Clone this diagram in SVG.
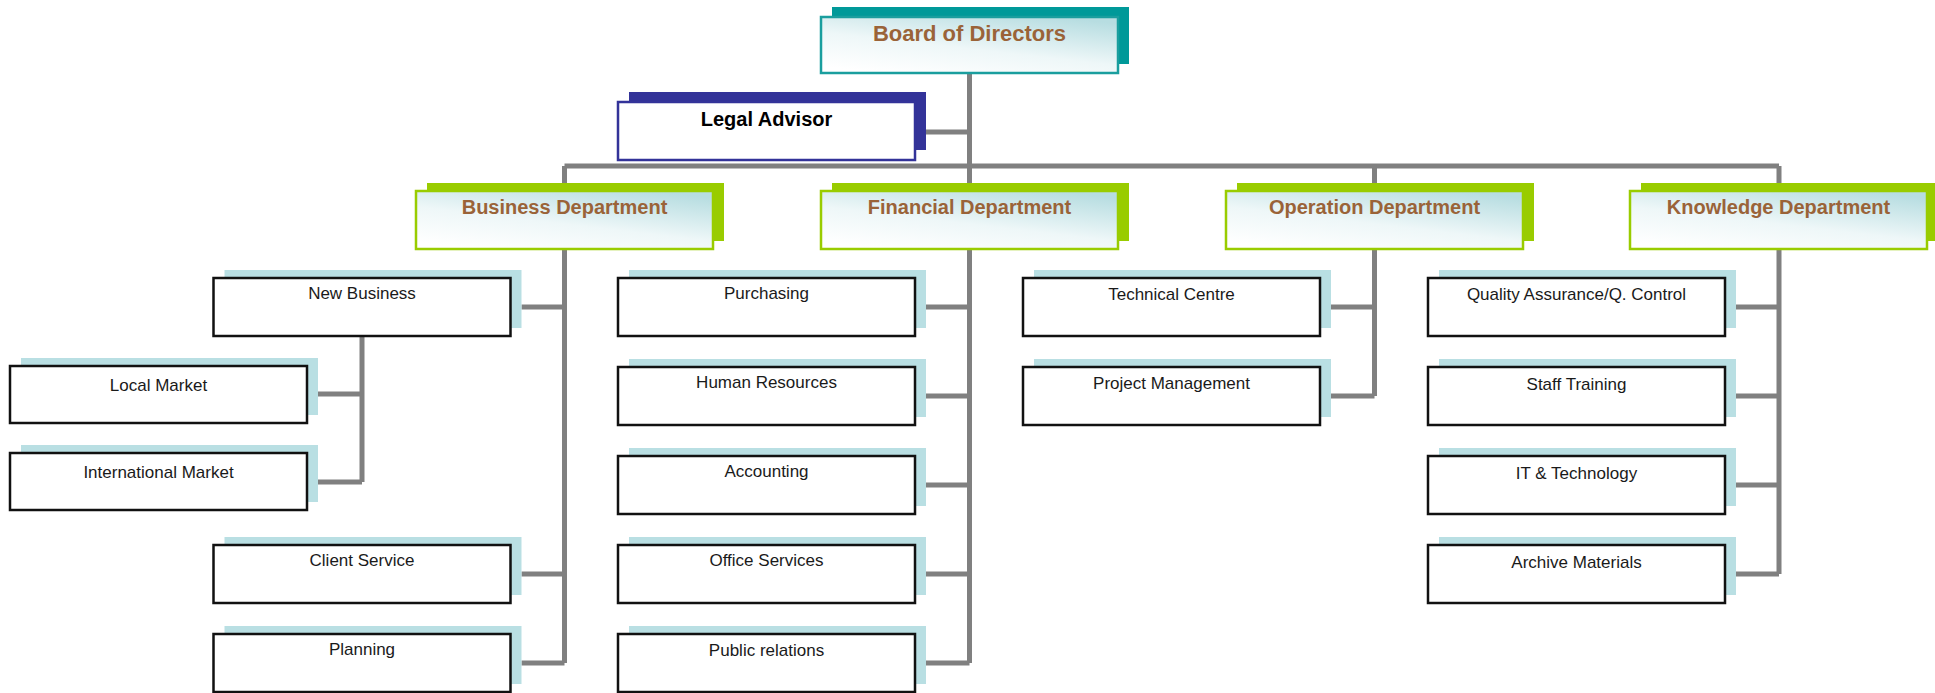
<svg xmlns="http://www.w3.org/2000/svg" width="1935" height="693" viewBox="0 0 1935 693">
<defs>
<linearGradient id="hg" x1="0.2" y1="1" x2="0.8" y2="0">
<stop offset="0" stop-color="#ffffff"/>
<stop offset="0.45" stop-color="#eef7f8"/>
<stop offset="1" stop-color="#b7dde1"/>
</linearGradient>
<style>
.bg{fill:#b9dfe3}
.box{fill:#ffffff;stroke:#111;stroke-width:2.5}
.t{font-family:"Liberation Sans",Arial,sans-serif;font-size:17px;fill:#1a1a1a;text-anchor:middle}
.dbk{fill:#99cc00}
.dfr{fill:url(#hg);stroke:#99cc00;stroke-width:2.5}
.dt{font-family:"Liberation Sans",Arial,sans-serif;font-size:20px;font-weight:bold;fill:#9a6338;text-anchor:middle}
.ln{stroke:#808080;stroke-width:5;fill:none}
</style>
</defs>

<g id="connectors">
<path class="ln" d="M969.5 73 V166 M926 132 H969.5 M564.5 166 H1779 M564.5 166 V191 M969.5 166 V191 M1374.5 166 V191 M1779 166 V191"/>
<path class="ln" d="M564.5 249 V663 M521.5 307 H564.5 M521.5 574 H564.5 M521.5 663 H564.5"/>
<path class="ln" d="M362 336 V482 M318 394 H362 M318 482 H362"/>
<path class="ln" d="M969.5 249 V663 M926 307 H969.5 M926 396 H969.5 M926 485 H969.5 M926 574 H969.5 M926 663 H969.5"/>
<path class="ln" d="M1374.5 249 V396 M1331 307 H1374.5 M1331 396 H1374.5"/>
<path class="ln" d="M1779 249 V574 M1736 307 H1779 M1736 396 H1779 M1736 485 H1779 M1736 574 H1779"/>
</g>

<g id="board">
<rect x="832" y="7" width="297" height="57" fill="#009999"/>
<rect x="821" y="17" width="297" height="56" fill="url(#hg)" stroke="#1a9e9e" stroke-width="2.5"/>
<text class="dt" x="969.5" y="41" style="font-size:22px">Board of Directors</text>
</g>

<g id="legal">
<rect x="629" y="92" width="297" height="58" fill="#333399"/>
<rect x="618" y="102" width="297" height="58" fill="#ffffff" stroke="#333399" stroke-width="2.5"/>
<text class="dt" x="766.5" y="126" style="fill:#000">Legal Advisor</text>
</g>

<g id="dept-business">
<rect class="dbk" x="427" y="183" width="297" height="58"/>
<rect class="dfr" x="416" y="191" width="297" height="58"/>
<text class="dt" x="564.5" y="214">Business Department</text>
</g>
<g id="dept-financial">
<rect class="dbk" x="832" y="183" width="297" height="58"/>
<rect class="dfr" x="821" y="191" width="297" height="58"/>
<text class="dt" x="969.5" y="214">Financial Department</text>
</g>
<g id="dept-operation">
<rect class="dbk" x="1237" y="183" width="297" height="58"/>
<rect class="dfr" x="1226" y="191" width="297" height="58"/>
<text class="dt" x="1374.5" y="214">Operation Department</text>
</g>
<g id="dept-knowledge">
<rect class="dbk" x="1641" y="183" width="297" height="58"/>
<rect class="dfr" x="1630" y="191" width="297" height="58"/>
<text class="dt" x="1778.5" y="214">Knowledge Department</text>
</g>

<g id="new-business"><rect class="bg" x="224.5" y="270" width="297" height="58"/><rect class="box" x="213.5" y="278" width="297" height="58"/><text class="t" x="362" y="299">New Business</text></g>
<g id="local-market"><rect class="bg" x="21" y="358" width="297" height="57"/><rect class="box" x="10" y="366" width="297" height="57"/><text class="t" x="158.5" y="391">Local Market</text></g>
<g id="international-market"><rect class="bg" x="21" y="445" width="297" height="57"/><rect class="box" x="10" y="453" width="297" height="57"/><text class="t" x="158.5" y="478">International Market</text></g>
<g id="client-service"><rect class="bg" x="224.5" y="537" width="297" height="58"/><rect class="box" x="213.5" y="545" width="297" height="58"/><text class="t" x="362" y="566">Client Service</text></g>
<g id="planning"><rect class="bg" x="224.5" y="626" width="297" height="58"/><rect class="box" x="213.5" y="634" width="297" height="58"/><text class="t" x="362" y="655">Planning</text></g>

<g id="purchasing"><rect class="bg" x="629" y="270" width="297" height="58"/><rect class="box" x="618" y="278" width="297" height="58"/><text class="t" x="766.5" y="299">Purchasing</text></g>
<g id="human-resources"><rect class="bg" x="629" y="359" width="297" height="58"/><rect class="box" x="618" y="367" width="297" height="58"/><text class="t" x="766.5" y="388">Human Resources</text></g>
<g id="accounting"><rect class="bg" x="629" y="448" width="297" height="58"/><rect class="box" x="618" y="456" width="297" height="58"/><text class="t" x="766.5" y="477">Accounting</text></g>
<g id="office-services"><rect class="bg" x="629" y="537" width="297" height="58"/><rect class="box" x="618" y="545" width="297" height="58"/><text class="t" x="766.5" y="566">Office Services</text></g>
<g id="public-relations"><rect class="bg" x="629" y="626" width="297" height="58"/><rect class="box" x="618" y="634" width="297" height="58"/><text class="t" x="766.5" y="656">Public relations</text></g>

<g id="technical-centre"><rect class="bg" x="1034" y="270" width="297" height="58"/><rect class="box" x="1023" y="278" width="297" height="58"/><text class="t" x="1171.5" y="300">Technical Centre</text></g>
<g id="project-management"><rect class="bg" x="1034" y="359" width="297" height="58"/><rect class="box" x="1023" y="367" width="297" height="58"/><text class="t" x="1171.5" y="389">Project Management</text></g>

<g id="quality-assurance"><rect class="bg" x="1439" y="270" width="297" height="58"/><rect class="box" x="1428" y="278" width="297" height="58"/><text class="t" x="1576.5" y="300">Quality Assurance/Q. Control</text></g>
<g id="staff-training"><rect class="bg" x="1439" y="359" width="297" height="58"/><rect class="box" x="1428" y="367" width="297" height="58"/><text class="t" x="1576.5" y="390">Staff Training</text></g>
<g id="it-technology"><rect class="bg" x="1439" y="448" width="297" height="58"/><rect class="box" x="1428" y="456" width="297" height="58"/><text class="t" x="1576.5" y="479">IT &amp; Technology</text></g>
<g id="archive-materials"><rect class="bg" x="1439" y="537" width="297" height="58"/><rect class="box" x="1428" y="545" width="297" height="58"/><text class="t" x="1576.5" y="568">Archive Materials</text></g>
</svg>
